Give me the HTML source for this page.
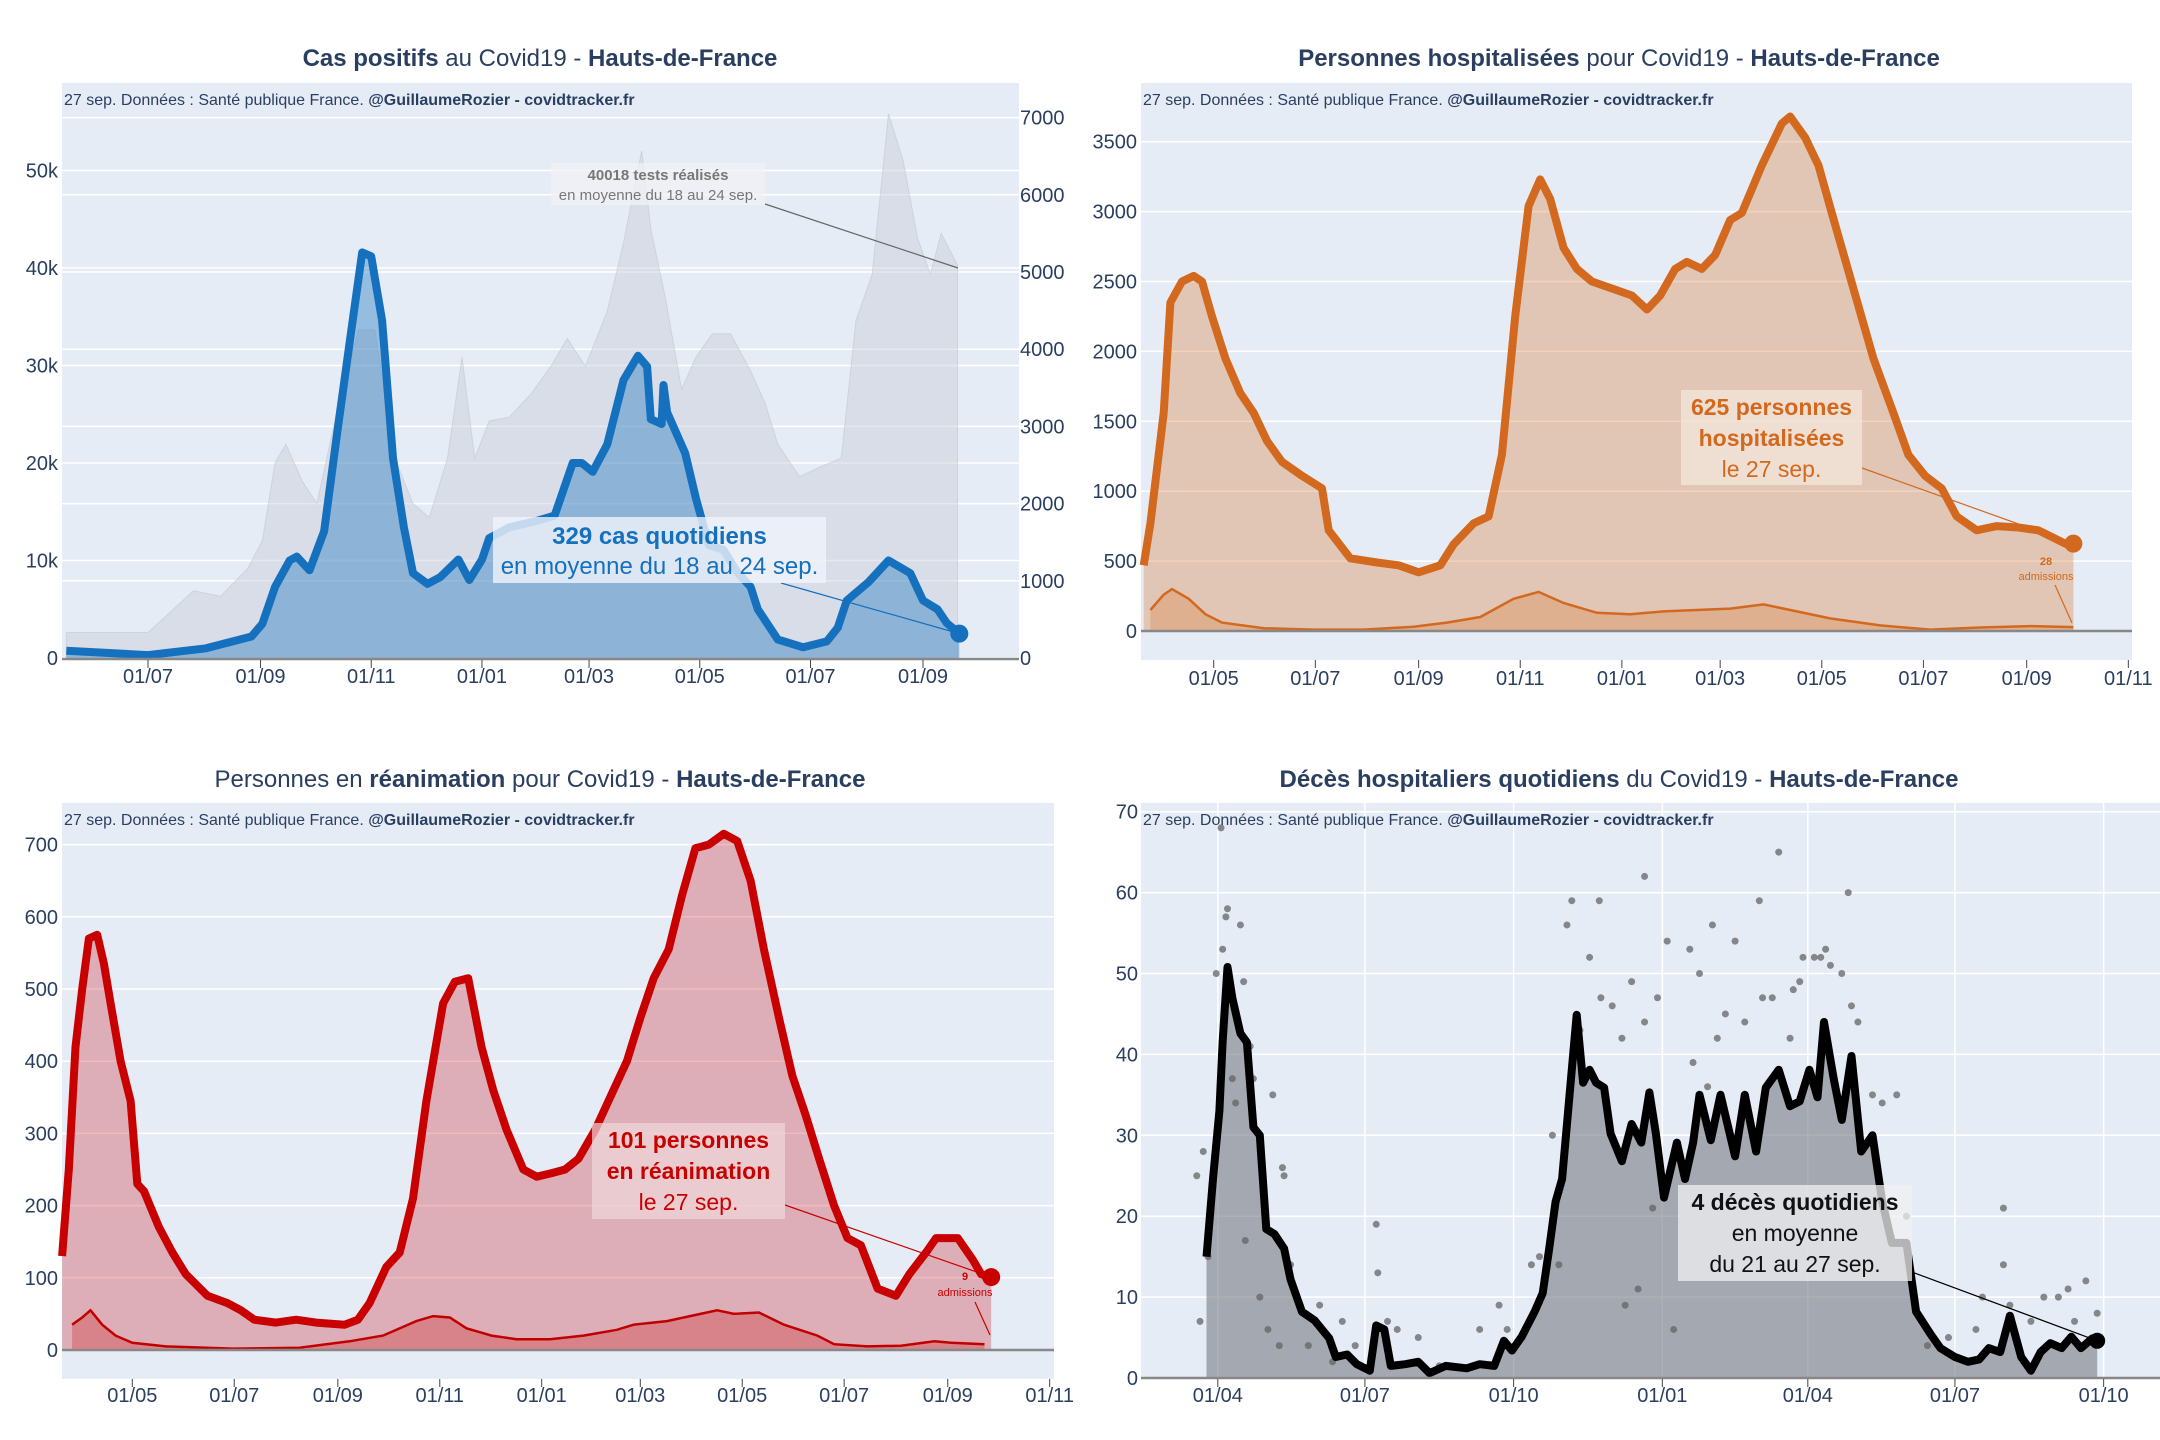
<!DOCTYPE html>
<html><head><meta charset="utf-8">
<style>
html,body{margin:0;padding:0;background:#fff;}
svg{display:block;font-family:"Liberation Sans",sans-serif;}
.tick{font-size:20px;fill:#2a3f5f;}
.title{font-size:24px;fill:#2a3f5f;}
.src{font-size:16px;fill:#2a3f5f;}
</style></head>
<body>
<svg id="chart" width="2160" height="1440" viewBox="0 0 2160 1440" xmlns="http://www.w3.org/2000/svg">
<g id="p1"></g>
<g id="p2"></g>
<g id="p3"></g>
<g id="p4"></g>
</svg>
<script>
// ---- Panel 1: cases (days since 2020-07-01) ----
const casesDays=[-45,0,32,57,63,70,78,82,89,97,104,112,118,123,129,135,141,146,154,161,171,177,184,188,199,215,224,234,239,245,253,262,270,275,277,283,284,286,296,302,309,317,325,332,336,347,361,374,380,385,397,408,420,427,435,440,447];
const casesVals=[750,300,1000,2200,3500,7300,10000,10400,9000,13000,22800,33600,41600,41200,34600,20500,13400,8700,7600,8300,10100,8000,10100,12300,13400,14100,14600,20000,20000,19100,21900,28500,31000,29900,24500,24000,28000,25200,21000,16300,11600,11100,8700,7300,5000,1900,1100,1700,3100,5900,7800,10000,8700,5900,5000,3600,2500];
const testsDays=[-45,0,25,40,55,63,70,76,85,93,104,116,125,136,146,155,165,173,180,188,199,211,222,231,241,253,262,272,277,285,294,302,311,321,332,340,347,359,370,382,390,399,408,416,424,431,437,446];
const testsVals=[330,330,870,800,1160,1520,2530,2770,2290,2000,3180,4250,4250,2590,2000,1820,2590,3900,2590,3070,3120,3420,3780,4140,3780,4490,5380,6570,5560,4670,3480,3900,4200,4200,3720,3300,2770,2350,2470,2590,4370,4970,7050,6450,5440,4970,5500,5090];
const p1TickDays=[0,62,123,184,243,304,365,427];
const p1TickLabels=["01/07","01/09","01/11","01/01","01/03","01/05","01/07","01/09"];
const p1LeftTicks=[0,10000,20000,30000,40000,50000];
const p1LeftLabels=["0","10k","20k","30k","40k","50k"];
const p1RightTicks=[0,1000,2000,3000,4000,5000,6000,7000];
// ---- Panel 2: hospitalised (days since 2020-05-01) ----
const hospDays=[-42,-38,-30,-26,-19,-12,-7,-1,7,16,24,32,41,53,65,69,82,98,111,123,136,144,156,165,173,181,189,196,202,210,218,227,239,251,260,268,277,284,293,301,310,317,329,341,346,355,363,371,384,396,408,417,427,437,446,458,470,483,495,512,516];
const hospVals=[470,770,1560,2350,2500,2540,2500,2250,1950,1700,1560,1360,1210,1110,1020,720,520,490,470,420,470,620,770,820,1260,2250,3040,3230,3090,2740,2590,2500,2450,2400,2300,2400,2590,2640,2590,2690,2940,2990,3330,3630,3680,3530,3330,2990,2450,1950,1560,1260,1110,1020,820,720,750,740,720,620,625];
const hospAdmDays=[-38,-30,-25,-15,-5,5,30,60,90,120,140,160,180,195,210,230,250,270,290,310,330,350,370,400,430,460,490,516];
const hospAdmVals=[150,260,300,230,120,60,20,10,10,30,60,100,230,280,200,130,120,140,150,160,190,140,90,40,10,25,35,28];
const p2TickDays=[0,61,123,184,245,304,365,426,488,549];
const p2TickLabels=["01/05","01/07","01/09","01/11","01/01","01/03","01/05","01/07","01/09","01/11"];
const p2YTicks=[0,500,1000,1500,2000,2500,3000,3500];
// ---- Panel 3: ICU (days since 2020-05-01) ----
const icuDays=[-42,-38,-34,-30,-26,-21,-17,-13,-7,-1,3,7,16,24,32,45,57,65,73,86,98,110,127,135,142,152,160,168,176,186,193,201,209,216,224,234,242,251,259,267,277,288,296,304,312,321,329,337,345,354,362,370,378,387,395,403,411,420,428,436,446,457,465,475,481,494,503,508,514];
const icuVals=[130,250,420,500,570,575,535,480,400,345,230,220,170,135,105,75,65,55,42,38,42,38,35,42,65,115,135,210,345,480,510,515,420,360,305,250,240,245,250,265,305,360,400,460,515,555,630,695,700,715,705,650,555,460,380,325,265,200,155,145,85,75,105,135,155,155,125,105,101];
const icuAdmDays=[-36,-30,-25,-18,-10,0,20,60,100,130,150,170,180,190,200,215,230,250,270,290,300,320,340,350,360,375,390,410,420,440,460,480,490,510];
const icuAdmVals=[35,45,55,35,20,10,5,2,3,12,20,40,47,45,30,20,15,15,20,28,35,40,50,55,50,52,35,20,8,5,6,12,10,8];
const p3YTicks=[0,100,200,300,400,500,600,700];
// ---- Panel 4: deaths (days since 2020-04-01) ----
const deathDays=[-7,-3,1,3,6,9,14,18,22,26,30,35,41,45,52,60,69,73,80,86,94,98,103,107,116,124,131,141,154,162,171,177,182,188,196,201,205,209,213,218,222,226,230,234,239,243,250,256,262,267,271,276,284,289,294,298,305,311,320,326,333,339,347,354,360,366,371,375,381,386,392,398,405,411,417,426,432,441,447,456,464,471,477,484,490,497,503,509,515,522,528,534,541,544];
const deathVals=[15,24.6,33,41.5,50.8,47,42.6,41.5,31,30,18.4,17.8,16,12.2,8.2,7.1,4.9,2.6,2.9,1.7,0.9,6.5,6,1.5,1.7,2,0.6,1.5,1.2,1.7,1.5,4.6,3.4,5.1,8.2,10.5,16,21.8,24.6,35.9,44.9,36.5,38.1,36.5,35.9,30.2,26.8,31.4,29.1,35.3,30.2,22.3,29.1,24.6,29.1,35,29.4,35,27.4,35,28,35.9,38.1,33.6,34.2,38.1,34.7,44,37,31.9,39.8,28,30,21.8,16.7,16.7,8.2,5.4,3.7,2.6,2,2.3,3.7,3.2,7.7,2.6,0.9,3.2,4.3,3.7,5.1,3.7,4.9,4.6];
const dotDays=[-13,-11,-9,-6,-1,2,3,5,6,9,11,14,16,17,20,22,26,31,34,38,40,41,45,51,56,63,71,77,85,98,99,105,111,124,137,162,174,179,188,194,199,207,211,216,219,224,230,236,237,244,250,252,256,260,264,264,269,272,278,282,292,294,298,303,306,309,314,320,326,335,337,343,347,354,356,360,362,369,373,376,379,386,390,392,396,405,411,420,426,439,452,469,473,486,486,490,503,511,520,526,530,537,544];
const dotVals=[25,7,28,15,50,68,53,57,58,37,34,56,49,17,41,37,10,6,35,4,26,25,14,9,4,9,2,7,4,19,13,7,6,5,1.5,6,9,6,5,14,15,30,14,56,59,43,52,59,47,46,42,9,49,11,44,62,21,47,54,6,53,39,50,36,56,42,45,54,44,59,47,47,65,42,48,49,52,52,52,53,51,50,60,46,44,35,34,35,20,4,5,6,10,21,14,9,7,10,10,11,7,12,8];
const p4TickDays=[0,91,183,275,365,456,548];
const p4TickLabels=["01/04","01/07","01/10","01/01","01/04","01/07","01/10"];
const p4YTicks=[0,10,20,30,40,50,60,70];

const NS="http://www.w3.org/2000/svg";
function mk(parent,tag,attrs,text){const e=document.createElementNS(NS,tag);for(const k in attrs)e.setAttribute(k,attrs[k]);if(text!==undefined)e.textContent=text;parent.appendChild(e);return e;}
function linePath(xs,ys,xf,yf){return xs.map((d,i)=>(i?'L':'M')+xf(d).toFixed(1)+','+yf(ys[i]).toFixed(1)).join(' ');}
function areaPath(xs,ys,xf,yf,y0){return linePath(xs,ys,xf,yf)+' L'+xf(xs[xs.length-1]).toFixed(1)+','+y0+' L'+xf(xs[0]).toFixed(1)+','+y0+' Z';}

function frame(g,o){
  const r=mk(g,'rect',{x:o.x0,y:o.y0,width:o.x1-o.x0,height:o.yb-o.y0,fill:'#e5ecf6'});
  
}
function hgrid(g,ticks,yf,x0,x1,labels,lx,anchor){
  ticks.forEach((v,i)=>{
    const l=mk(g,'line',{x1:x0,x2:x1,y1:yf(v),y2:yf(v),stroke:'#fff','stroke-width':1.5});
    
    if(labels){const t=mk(g,'text',{x:lx,y:yf(v)+7,'text-anchor':anchor,class:'tick'},labels[i]);
      }
  });
}
function xticks(g,days,labels,xf,ytick,ylab){
  days.forEach((d,i)=>{
    const l=mk(g,'line',{x1:xf(d),x2:xf(d),y1:ytick,y2:ytick+8,stroke:'#444','stroke-width':1});
    
    const t=mk(g,'text',{x:xf(d),y:ylab,'text-anchor':'middle',class:'tick'},labels[i]);
    
  });
}
function title(g,x,y,html){const t=mk(g,'text',{x:x,y:y,'text-anchor':'middle',class:'title'});t.innerHTML=html;
  }
function src(g,x,y){const t=mk(g,'text',{x:x,y:y,class:'src'});
  t.innerHTML='27 sep. Données : Santé publique France. <tspan font-weight="bold">@GuillaumeRozier - covidtracker.fr</tspan>';
  }
function zero(g,x0,x1,y){const l=mk(g,'line',{x1:x0,x2:x1,y1:y,y2:y,stroke:'#888','stroke-width':2.5});
  }
function box(g,x,y,w,h,fill,lines,color){
  const r=mk(g,'rect',{x:x,y:y,width:w,height:h,fill:fill});
  
  lines.forEach(L=>{const t=mk(g,'text',{x:x+w/2,y:L.y,'text-anchor':'middle',fill:color,'font-size':L.s,'font-weight':L.b?'bold':'normal'},L.t);
    });
}
function conn(g,x1,y1,x2,y2,c){const l=mk(g,'line',{x1:x1,y1:y1,x2:x2,y2:y2,stroke:c,'stroke-width':1.2});
  }

// ===== Panel 1 =====
(function(){
  const g=document.getElementById('p1');
  const xf=d=>148+1.815*d, yL=v=>658-v/10000*97.5, yR=v=>658-v/1000*77.2;
  frame(g,{x0:62,x1:1019,y0:83,yb:660});
  title(g,540,66,'<tspan font-weight="bold">Cas positifs</tspan> au Covid19 - <tspan font-weight="bold">Hauts-de-France</tspan>');
  hgrid(g,p1RightTicks,yR,62,1019,p1RightTicks.map(String),1020,'start');
  hgrid(g,p1LeftTicks,yL,62,1019,p1LeftLabels,58,'end');
  const ta=mk(g,'path',{d:areaPath(testsDays,testsVals,xf,yR,658),fill:'rgba(200,205,215,0.45)',stroke:'rgba(190,196,206,0.5)','stroke-width':1});
  
  const ca=mk(g,'path',{d:areaPath(casesDays,casesVals,xf,yL,658),fill:'rgba(31,119,190,0.4)'});
  
  const cl=mk(g,'path',{d:linePath(casesDays,casesVals,xf,yL),fill:'none',stroke:'#1570bd','stroke-width':8,'stroke-linejoin':'round'});
  
  const n=casesDays.length-1;
  const dot=mk(g,'circle',{cx:xf(casesDays[n]),cy:yL(casesVals[n]),r:9,fill:'#1570bd'});
  
  zero(g,62,1019,659);
  xticks(g,p1TickDays,p1TickLabels,xf,660,683);
  src(g,64,105);
  conn(g,765,204,958,268,'#666');
  box(g,551,163,214,42,'rgba(240,242,246,0.75)',[{t:'40018 tests réalisés',y:180,s:15,b:true},{t:'en moyenne du 18 au 24 sep.',y:200,s:15}],'#777');
  conn(g,781,583,xf(casesDays[n]),yL(casesVals[n]),'#1570bd');
  box(g,493,517,333,66,'rgba(240,244,250,0.8)',[{t:'329 cas quotidiens',y:544,s:24,b:true},{t:'en moyenne du 18 au 24 sep.',y:574,s:24}],'#1570bd');
})();

// ===== Panel 2 =====
(function(){
  const g=document.getElementById('p2');
  const xf=d=>1213.7+1.666*d, yf=v=>631-v/500*69.9;
  frame(g,{x0:1141,x1:2132,y0:83,yb:660});
  title(g,1619,66,'<tspan font-weight="bold">Personnes hospitalisées</tspan> pour Covid19 - <tspan font-weight="bold">Hauts-de-France</tspan>');
  hgrid(g,p2YTicks,yf,1141,2132,p2YTicks.map(String),1137,'end');
  const a=mk(g,'path',{d:areaPath(hospDays,hospVals,xf,yf,631),fill:'rgba(214,110,30,0.3)'});
  
  const aa=mk(g,'path',{d:areaPath(hospAdmDays,hospAdmVals,xf,yf,631),fill:'rgba(214,110,30,0.25)'});
  
  const al=mk(g,'path',{d:linePath(hospAdmDays,hospAdmVals,xf,yf),fill:'none',stroke:'#d2691e','stroke-width':2.5});
  
  const l=mk(g,'path',{d:linePath(hospDays,hospVals,xf,yf),fill:'none',stroke:'#d2691e','stroke-width':8,'stroke-linejoin':'round'});
  
  const n=hospDays.length-1;
  const dot=mk(g,'circle',{cx:xf(hospDays[n]),cy:yf(hospVals[n]),r:9,fill:'#d2691e'});
  
  zero(g,1141,2132,631);
  xticks(g,p2TickDays,p2TickLabels,xf,660,685);
  src(g,1143,105);
  conn(g,1862,468,xf(hospDays[n]),yf(hospVals[n]),'#d2691e');
  box(g,1681,390,181,95,'rgba(245,232,222,0.7)',[{t:'625 personnes',y:415,s:23,b:true},{t:'hospitalisées',y:446,s:23,b:true},{t:'le 27 sep.',y:477,s:23}],'#d2691e');
  const t1=mk(g,'text',{x:2046,y:565,'text-anchor':'middle','font-size':11,'font-weight':'bold',fill:'#d2691e'},'28');
  
  const t2=mk(g,'text',{x:2046,y:580,'text-anchor':'middle','font-size':11,fill:'#d2691e'},'admissions');
  
  conn(g,2055,585,2072,623,'#d2691e');
})();

// ===== Panel 3 =====
(function(){
  const g=document.getElementById('p3');
  const xf=d=>132.3+1.671*d, yf=v=>1350-v/100*72.2;
  frame(g,{x0:62,x1:1054,y0:803,yb:1379});
  title(g,540,787,'Personnes en <tspan font-weight="bold">réanimation</tspan> pour Covid19 - <tspan font-weight="bold">Hauts-de-France</tspan>');
  hgrid(g,p3YTicks,yf,62,1054,p3YTicks.map(String),58,'end');
  const a=mk(g,'path',{d:areaPath(icuDays,icuVals,xf,yf,1350),fill:'rgba(205,30,40,0.3)'});
  
  const aa=mk(g,'path',{d:areaPath(icuAdmDays,icuAdmVals,xf,yf,1350),fill:'rgba(200,0,0,0.25)'});
  
  const al=mk(g,'path',{d:linePath(icuAdmDays,icuAdmVals,xf,yf),fill:'none',stroke:'#c00000','stroke-width':2.5});
  
  const l=mk(g,'path',{d:linePath(icuDays,icuVals,xf,yf),fill:'none',stroke:'#c80000','stroke-width':8,'stroke-linejoin':'round'});
  
  const n=icuDays.length-1;
  const dot=mk(g,'circle',{cx:xf(icuDays[n]),cy:yf(icuVals[n]),r:9,fill:'#c80000'});
  
  zero(g,62,1054,1350);
  xticks(g,p2TickDays,p2TickLabels,xf,1379,1402);
  src(g,64,825);
  conn(g,785,1205,xf(icuDays[n]),yf(icuVals[n]),'#c80000');
  box(g,592,1123,193,96,'rgba(240,215,218,0.7)',[{t:'101 personnes',y:1148,s:23,b:true},{t:'en réanimation',y:1179,s:23,b:true},{t:'le 27 sep.',y:1210,s:23}],'#c80000');
  const t1=mk(g,'text',{x:965,y:1280,'text-anchor':'middle','font-size':11,'font-weight':'bold',fill:'#c80000'},'9');
  
  const t2=mk(g,'text',{x:965,y:1296,'text-anchor':'middle','font-size':11,fill:'#c80000'},'admissions');
  
  conn(g,975,1302,990,1335,'#c80000');
})();

// ===== Panel 4 =====
(function(){
  const g=document.getElementById('p4');
  const xf=d=>1217.8+1.6165*d, yf=v=>1378-v/10*80.9;
  frame(g,{x0:1141,x1:2160,y0:803,yb:1378});
  title(g,1619,787,'<tspan font-weight="bold">Décès hospitaliers quotidiens</tspan> du Covid19 - <tspan font-weight="bold">Hauts-de-France</tspan>');
  hgrid(g,p4YTicks,yf,1141,2160,p4YTicks.map(String),1138,'end');
  p4TickDays.forEach(d=>{const v=mk(g,'line',{x1:xf(d),x2:xf(d),y1:803,y2:1378,stroke:'#fff','stroke-width':1.5});
    });
  const a=mk(g,'path',{d:areaPath(deathDays,deathVals,xf,yf,1378),fill:'rgba(120,124,130,0.6)'});
  
  dotDays.forEach((d,i)=>{const c=mk(g,'circle',{cx:xf(d),cy:yf(dotVals[i]),r:3.5,fill:'rgba(100,100,100,0.75)'});
    });
  const l=mk(g,'path',{d:linePath(deathDays,deathVals,xf,yf),fill:'none',stroke:'#000','stroke-width':8,'stroke-linejoin':'round'});
  
  const n=deathDays.length-1;
  const dot=mk(g,'circle',{cx:xf(deathDays[n]),cy:yf(deathVals[n]),r:8,fill:'#000'});
  
  zero(g,1141,2160,1378);
  xticks(g,p4TickDays,p4TickLabels,xf,1379,1402);
  src(g,1143,825);
  conn(g,1912,1272,xf(deathDays[n]),yf(deathVals[n]),'#000');
  box(g,1678,1185,234,96,'rgba(240,240,242,0.75)',[{t:'4 décès quotidiens',y:1210,s:23,b:true},{t:'en moyenne',y:1241,s:23},{t:'du 21 au 27 sep.',y:1272,s:23}],'#111');
})();
</script>
</body></html>
